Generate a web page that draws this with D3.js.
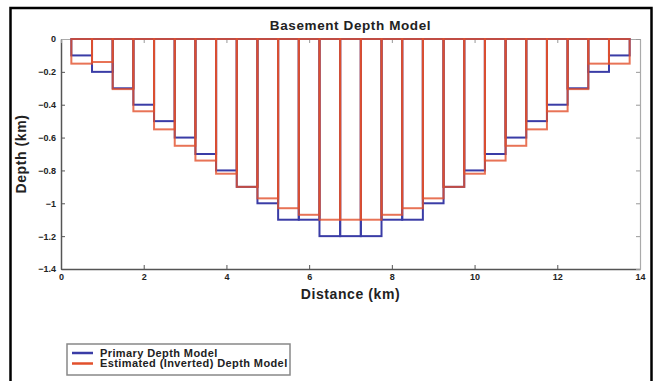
<!DOCTYPE html>
<html>
<head>
<meta charset="utf-8">
<script src="https://cdn.jsdelivr.net/npm/d3@7"></script>
<style>
  html, body { margin: 0; padding: 0; background: #fff; }
  svg { display: block; }
  text { font-family: "Liberation Sans", Arial, Helvetica, sans-serif; font-weight: bold; fill: #222; }
</style>
</head>
<body>
<svg id="chart" width="657" height="381"></svg>
<script>
// Cell centres along the profile (km)
const distance = [0.5, 1.0, 1.5, 2.0, 2.5, 3.0, 3.5, 4.0, 4.5, 5.0, 5.5, 6.0, 6.5, 7.0,
                  7.5, 8.0, 8.5, 9.0, 9.5, 10.0, 10.5, 11.0, 11.5, 12.0, 12.5, 13.0, 13.5];
// Basement depth of the primary model (km)
const primaryDepth = [-0.1, -0.2, -0.3, -0.4, -0.5, -0.6, -0.7, -0.8, -0.9, -1.0, -1.1, -1.1, -1.2, -1.2,
                      -1.2, -1.1, -1.1, -1.0, -0.9, -0.8, -0.7, -0.6, -0.5, -0.4, -0.3, -0.2, -0.1];
// Basement depth recovered by the inversion (km)
const estimatedDepth = [-0.15, -0.14, -0.305, -0.44, -0.55, -0.65, -0.74, -0.82, -0.9, -0.97, -1.03, -1.07, -1.1, -1.1,
                        -1.1, -1.07, -1.03, -0.97, -0.9, -0.82, -0.74, -0.65, -0.55, -0.44, -0.305, -0.15, -0.15];
const xTicks = [0, 2, 4, 6, 8, 10, 12, 14];
const yTicks = [0, -0.2, -0.4, -0.6, -0.8, -1, -1.2, -1.4];
const seriesNames = ["Primary Depth Model", "Estimated (Inverted) Depth Model"];

const colors = { primary: "#3a3ca6", estimated: "#e2502c" };

const svg = d3.select("#chart");
const plot = { left: 61, right: 640, top: 39, bottom: 269 };

const x = d3.scaleLinear().domain([0, 14]).range([plot.left, plot.right]);
const y = d3.scaleLinear().domain([0, -1.4]).range([plot.top, plot.bottom]);

// Outer frame
svg.append("rect")
  .attr("x", 10.5).attr("y", 8).attr("width", 641).attr("height", 400)
  .attr("fill", "#fff").attr("stroke", "#000").attr("stroke-width", 2.5);

// Plot box edges and ticks
const fmt = d => d === 0 ? "0" : d3.format("")(d);

const xAxisB = svg.append("g").attr("transform", `translate(0,${plot.bottom})`)
  .call(d3.axisBottom(x).tickValues(xTicks).tickSizeInner(-4).tickSizeOuter(0).tickPadding(5).tickFormat(fmt));
const yAxisL = svg.append("g").attr("transform", `translate(${plot.left},0)`)
  .call(d3.axisLeft(y).tickValues(yTicks).tickSizeInner(-4).tickSizeOuter(0).tickPadding(5).tickFormat(fmt));
const xAxisT = svg.append("g").attr("transform", `translate(0,${plot.top})`)
  .call(d3.axisTop(x).tickValues(xTicks).tickSizeInner(-4).tickSizeOuter(0).tickFormat(""));
const yAxisR = svg.append("g").attr("transform", `translate(${plot.right},0)`)
  .call(d3.axisRight(y).tickValues(yTicks).tickSizeInner(-4).tickSizeOuter(0).tickFormat(""));

[xAxisB, yAxisL].forEach(g => {
  g.select(".domain").attr("stroke", "#555").attr("stroke-width", 1.5);
  g.selectAll(".tick line").attr("stroke", "#555");
  g.selectAll(".tick text").style("font-size", "9px").attr("fill", "#222");
});
[xAxisT, yAxisR].forEach(g => {
  g.select(".domain").attr("stroke", "#aaa").attr("stroke-width", 1.2);
  g.selectAll(".tick line").attr("stroke", "#999");
});

// Cell half-width from the spacing of the centres
const half = (distance[1] - distance[0]) / 2;

function drawCells(values, color, opacity) {
  svg.append("g").selectAll("rect")
    .data(distance.map((d, i) => ({ d, v: values[i] })))
    .join("rect")
    .attr("x", p => x(p.d - half))
    .attr("width", p => x(p.d + half) - x(p.d - half))
    .attr("y", y(0))
    .attr("height", p => y(p.v) - y(0))
    .attr("fill", "none")
    .attr("stroke", color)
    .attr("stroke-width", 2)
    .attr("stroke-opacity", opacity);
}
drawCells(primaryDepth, colors.primary, 1);
drawCells(estimatedDepth, colors.estimated, 0.8);

// Title and axis labels
svg.append("text").attr("x", (plot.left + plot.right) / 2).attr("y", 30)
  .attr("text-anchor", "middle").style("font-size", "13.5px").style("letter-spacing", "0.6px")
  .text("Basement Depth Model");
svg.append("text").attr("x", (plot.left + plot.right) / 2).attr("y", 299)
  .attr("text-anchor", "middle").style("font-size", "14px").style("letter-spacing", "0.6px")
  .text("Distance (km)");
svg.append("text")
  .attr("transform", `translate(26,${(plot.top + plot.bottom) / 2}) rotate(-90)`)
  .attr("text-anchor", "middle").style("font-size", "14px").style("letter-spacing", "0.6px")
  .text("Depth (km)");

// Legend
const legend = svg.append("g");
legend.append("rect").attr("x", 67).attr("y", 344).attr("width", 223).attr("height", 31)
  .attr("fill", "#fff").attr("stroke", "#888").attr("stroke-width", 1.5);
[colors.primary, colors.estimated].forEach((c, i) => {
  const ly = 353 + i * 10.5;
  legend.append("line").attr("x1", 72).attr("x2", 93).attr("y1", ly).attr("y2", ly)
    .attr("stroke", c).attr("stroke-width", 2.5);
  legend.append("text").attr("x", 100).attr("y", ly).attr("dy", "0.35em")
    .style("font-size", "11px").style("letter-spacing", "0.4px").text(seriesNames[i]);
});
</script>
</body>
</html>
